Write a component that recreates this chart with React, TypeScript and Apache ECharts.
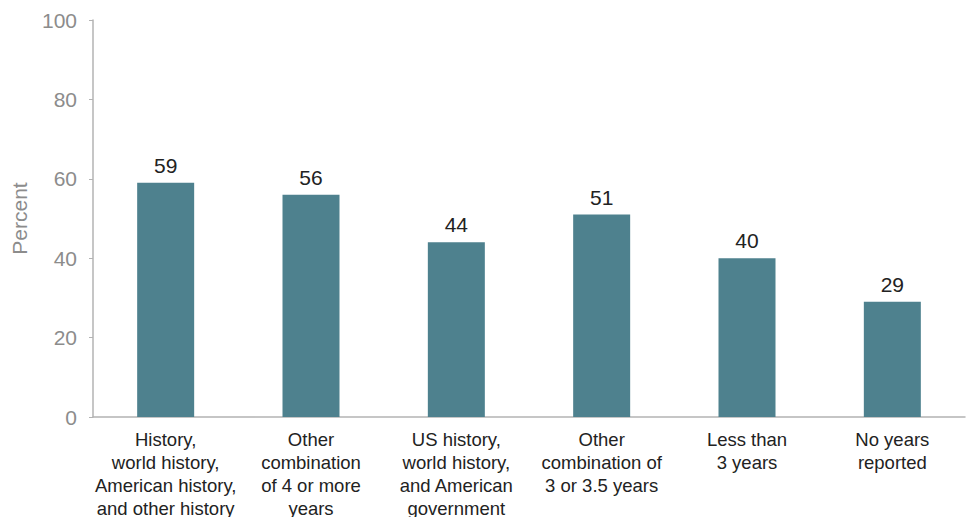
import React, { useEffect, useRef } from "react";
import * as echarts from "echarts";

const categories = [
  "History,\nworld history,\nAmerican history,\nand other history",
  "Other\ncombination\nof 4 or more\nyears",
  "US history,\nworld history,\nand American\ngovernment",
  "Other\ncombination of\n3 or 3.5 years",
  "Less than\n3 years",
  "No years\nreported",
];
const values = [59, 56, 44, 51, 40, 29];
const yAxisName = "Percent";

export default function App() {
  const ref = useRef<HTMLDivElement>(null);
  useEffect(() => {
    document.body.style.margin = "0";
    const chart = echarts.init(ref.current!, undefined, { renderer: "svg" });
    chart.setOption({
      animation: false,
      textStyle: { fontFamily: "Liberation Sans, Arial, sans-serif" },
      grid: {
        left: 93,
        right: 4,
        top: 20,
        bottom: 100,
        containLabel: false,
        outerBoundsMode: "none",
      },
      xAxis: {
        type: "category",
        data: categories,
        axisLine: { lineStyle: { color: "#b3b3b3", width: 1.5 } },
        axisTick: { show: false },
        axisLabel: {
          interval: 0,
          color: "#222",
          fontSize: 18.5,
          lineHeight: 23,
          margin: 11,
        },
      },
      yAxis: {
        type: "value",
        min: 0,
        max: 100,
        interval: 20,
        name: yAxisName,
        nameLocation: "middle",
        nameGap: 63,
        nameTextStyle: { color: "#8c8c8c", fontSize: 21 },
        axisLine: { show: true, lineStyle: { color: "#b3b3b3", width: 1.5 } },
        axisTick: { show: true, length: 4, lineStyle: { color: "#b3b3b3" } },
        splitLine: { show: false },
        axisLabel: { color: "#8c8c8c", fontSize: 21, margin: 16 },
      },
      series: [
        {
          type: "bar",
          data: values,
          barWidth: 57,
          itemStyle: { color: "#4e818e" },
          label: {
            show: true,
            position: "top",
            distance: 7,
            color: "#222",
            fontSize: 21,
          },
        },
      ],
    });
    return () => chart.dispose();
  }, []);
  return <div ref={ref} style={{ width: 969, height: 517 }} />;
}
